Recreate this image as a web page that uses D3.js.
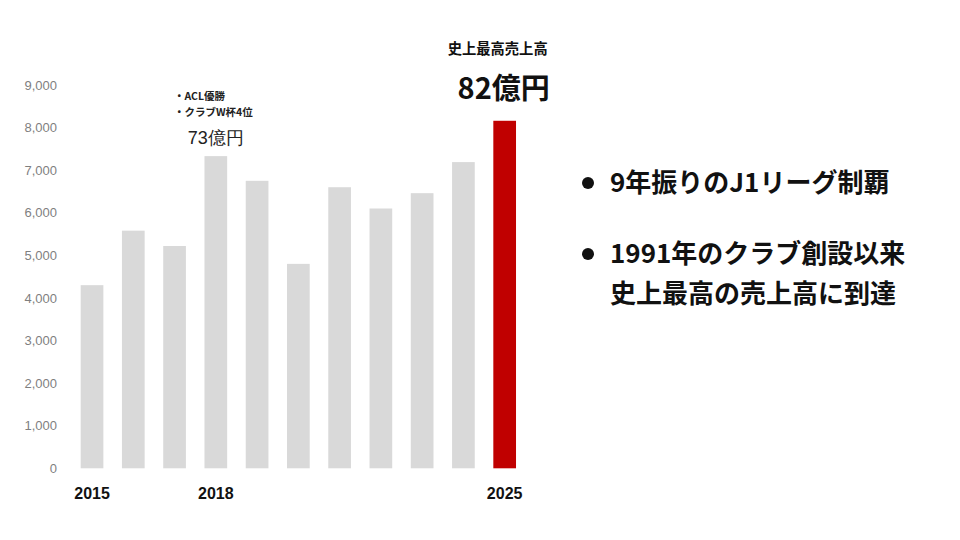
<!DOCTYPE html>
<html>
<head>
<meta charset="utf-8">
<script src="https://cdn.jsdelivr.net/npm/d3@7"></script>
<style>
  html, body { margin: 0; padding: 0; background: #fff; }
  svg { display: block; }
</style>
</head>
<body>
<div id="chart"></div>
<script>
"use strict";

// sales per year (million yen)
const years = ["2015", "2016", "2017", "2018", "2019", "2020", "2021", "2022", "2023", "2024", "2025"];
const sales = [4300, 5580, 5220, 7330, 6750, 4800, 6600, 6100, 6460, 7190, 8160];
const yTicks = [0, 1000, 2000, 3000, 4000, 5000, 6000, 7000, 8000, 9000];
const shownYears = ["2015", "2018", "2025"];
const bullets = [
   ["9年振りのJ1リーグ制覇"],
   ["1991年のクラブ創設以来", "史上最高の売上高に到達"]
];

const jp = "'Noto Sans CJK JP', 'Noto Sans', sans-serif";
const latin = "'Liberation Sans', Arial, sans-serif";

const svg = d3.select("#chart")
   .append("svg")
   .attr("width", 960)
   .attr("height", 540);

const x = d3.scaleBand()
   .domain(years)
   .range([71.4, 525.3])
   .paddingInner(0.45)
   .paddingOuter(0.225);

const y = d3.scaleLinear()
   .domain([0, 9000])
   .range([468.3, 85]);

// y axis, labels only
const yAxis = svg.append("g")
   .attr("transform", "translate(57,0)")
   .call(d3.axisLeft(y).tickValues(yTicks).tickSize(0).tickPadding(0).tickFormat(d3.format(",")));
yAxis.select(".domain").remove();
yAxis.selectAll("text")
   .attr("fill", "#7f7f7f")
   .style("font-family", latin)
   .style("font-size", "13px");

// bars
svg.append("g")
   .selectAll("rect")
   .data(years)
   .join("rect")
   .attr("x", d => x(d))
   .attr("width", x.bandwidth())
   .attr("y", (d, i) => y(sales[i]))
   .attr("height", (d, i) => y(0) - y(sales[i]))
   .attr("fill", d => d === "2025" ? "#c00000" : "#d9d9d9");

// x axis, only a few years shown
const xAxis = svg.append("g")
   .attr("transform", "translate(0,488)")
   .call(d3.axisBottom(x).tickValues(shownYears).tickSize(0).tickPadding(0));
xAxis.select(".domain").remove();
xAxis.selectAll("text")
   .attr("fill", "#111")
   .style("font-family", latin)
   .style("font-size", "16px")
   .style("font-weight", "bold");

// annotation over 2018
const cx18 = x("2018") + x.bandwidth() / 2;
svg.append("text")
   .attr("x", 174).attr("y", 100)
   .style("font-family", jp).style("font-size", "10.5px").style("font-weight", "bold")
   .attr("fill", "#222")
   .text("・ACL優勝");
svg.append("text")
   .attr("x", 174).attr("y", 115.5)
   .style("font-family", jp).style("font-size", "10.5px").style("font-weight", "bold")
   .attr("fill", "#222")
   .text("・クラブW杯4位");
svg.append("text")
   .attr("x", cx18).attr("y", 144)
   .attr("text-anchor", "middle")
   .style("font-family", latin).style("font-size", "18px")
   .attr("fill", "#222")
   .text("73億円");

// annotation over 2025
const cx25 = x("2025") + x.bandwidth() / 2;
svg.append("text")
   .attr("x", cx25 - 7).attr("y", 54)
   .attr("text-anchor", "middle")
   .style("font-family", jp).style("font-size", "14.3px").style("font-weight", "bold")
   .attr("fill", "#111")
   .text("史上最高売上高");
svg.append("text")
   .attr("x", cx25 - 1).attr("y", 99)
   .attr("text-anchor", "middle")
   .style("font-family", jp).style("font-size", "29px").style("font-weight", "bold")
   .attr("fill", "#111")
   .text("82億円");

// bullet list on the right
const tops = [183, 254];
bullets.forEach((lines, i) => {
   svg.append("circle")
      .attr("cx", 588).attr("cy", tops[i])
      .attr("r", 6)
      .attr("fill", "#111");
   lines.forEach((line, j) => {
      svg.append("text")
         .attr("x", 610).attr("y", tops[i] + j * 40 + 9)
         .style("font-family", jp).style("font-size", "26px").style("font-weight", "bold")
         .attr("fill", "#111")
         .text(line);
   });
});
</script>
</body>
</html>
